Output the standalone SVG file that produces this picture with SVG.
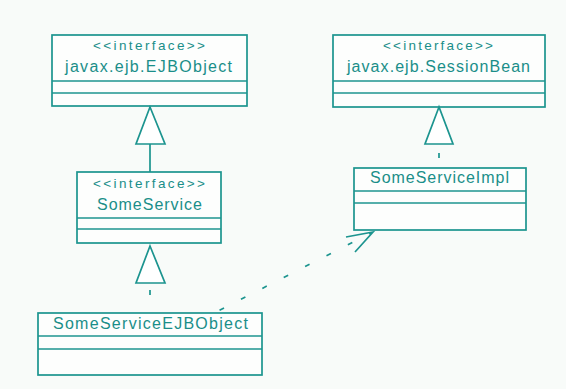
<svg xmlns="http://www.w3.org/2000/svg" width="566" height="389" viewBox="0 0 566 389">
  <style>
    .box { fill: #fdfefd; stroke: #1c948f; stroke-width: 1.7; }
    .div { stroke: #1c948f; stroke-width: 1.7; }
    .txt { font-family: "Liberation Sans", Arial, sans-serif; font-size: 16px; fill: #1a8e89; }
    .st { font-size: 13.5px; }
    .edge { fill: none; stroke: #1c948f; stroke-width: 1.7; }
    .tri { fill: #ffffff; stroke: #1c948f; stroke-width: 1.7; stroke-linejoin: miter; }
  </style>
  <rect width="566" height="389" fill="#f8fbf9"/>

  <!-- interface javax.ejb.EJBObject -->
  <g id="ejbobject">
    <rect class="box" x="52" y="35" width="195" height="71"/>
    <line class="div" x1="52" y1="81" x2="247" y2="81"/>
    <line class="div" x1="52" y1="93" x2="247" y2="93"/>
    <text class="txt st" x="93" y="50" textLength="112" lengthAdjust="spacing">&lt;&lt;interface&gt;&gt;</text>
    <text class="txt" x="65" y="72" textLength="167" lengthAdjust="spacing">javax.ejb.EJBObject</text>
  </g>

  <!-- interface javax.ejb.SessionBean -->
  <g id="sessionbean">
    <rect class="box" x="333" y="35" width="212" height="72"/>
    <line class="div" x1="333" y1="81" x2="545" y2="81"/>
    <line class="div" x1="333" y1="93" x2="545" y2="93"/>
    <text class="txt st" x="383" y="50" textLength="110" lengthAdjust="spacing">&lt;&lt;interface&gt;&gt;</text>
    <text class="txt" x="347" y="72" textLength="183" lengthAdjust="spacing">javax.ejb.SessionBean</text>
  </g>

  <!-- interface SomeService -->
  <g id="someservice">
    <rect class="box" x="77" y="172" width="144" height="71"/>
    <line class="div" x1="77" y1="218" x2="221" y2="218"/>
    <line class="div" x1="77" y1="229" x2="221" y2="229"/>
    <text class="txt st" x="93" y="188" textLength="112" lengthAdjust="spacing">&lt;&lt;interface&gt;&gt;</text>
    <text class="txt" x="97" y="210" textLength="105" lengthAdjust="spacing">SomeService</text>
  </g>

  <!-- class SomeServiceImpl -->
  <g id="someserviceimpl">
    <rect class="box" x="354" y="168" width="172" height="62"/>
    <line class="div" x1="354" y1="191" x2="526" y2="191"/>
    <line class="div" x1="354" y1="203" x2="526" y2="203"/>
    <text class="txt" x="370" y="183" textLength="139" lengthAdjust="spacing">SomeServiceImpl</text>
  </g>

  <!-- class SomeServiceEJBObject -->
  <g id="someserviceejbobject">
    <rect class="box" x="38" y="313" width="224" height="62"/>
    <line class="div" x1="38" y1="336" x2="262" y2="336"/>
    <line class="div" x1="38" y1="349" x2="262" y2="349"/>
    <text class="txt" x="53" y="329" textLength="195" lengthAdjust="spacing">SomeServiceEJBObject</text>
  </g>

  <!-- relationships -->
  <g id="connectors">
    <!-- SomeService extends EJBObject -->
    <line class="edge" x1="150" y1="144" x2="150" y2="172"/>
    <polygon class="tri" points="150,107 136,144 165,144"/>

    <!-- SomeServiceImpl implements SessionBean -->
    <line class="edge" x1="439" y1="144" x2="439" y2="168" stroke-dasharray="0 9 5 100"/>
    <polygon class="tri" points="439,107 425,144 453,144"/>

    <!-- SomeServiceEJBObject implements SomeService -->
    <line class="edge" x1="150" y1="283" x2="150" y2="313" stroke-dasharray="0 7 5 14"/>
    <polygon class="tri" points="150,246 136,283 165,283"/>

    <!-- SomeServiceEJBObject depends on SomeServiceImpl -->
    <line class="edge" x1="216" y1="312" x2="371" y2="233" stroke-dasharray="0 4 5 15"/>
    <path class="edge" d="M346,237 L373,232 L355,252"/>
  </g>
</svg>
